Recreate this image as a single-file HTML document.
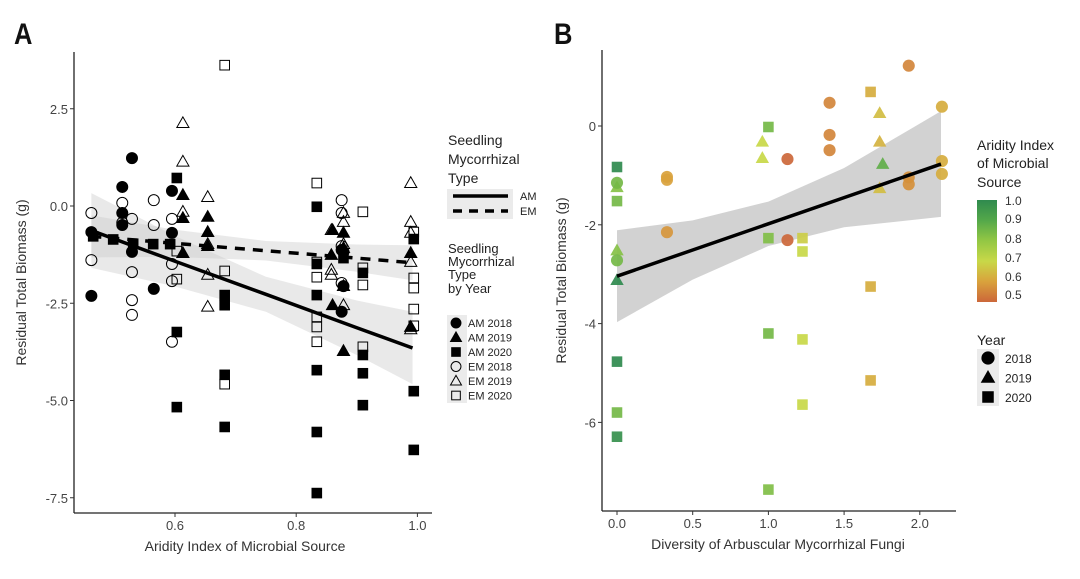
<!DOCTYPE html>
<html><head><meta charset="utf-8">
<style>
html,body{margin:0;padding:0;background:#fff;}
svg{display:block;font-family:"Liberation Sans",Arial,sans-serif;}
</style></head>
<body>
<svg id="fig" width="1080" height="579" viewBox="0 0 1080 579">
  <text x="0" y="0" font-size="30" font-weight="bold" fill="#111" transform="translate(14 44) scale(0.85 1)">A</text>
  <text x="0" y="0" font-size="30" font-weight="bold" fill="#111" transform="translate(554 44) scale(0.85 1)">B</text>
  <g id="pa"></g>
  <g id="pb"></g>
  <!-- Legend A -->
  <g font-size="14" fill="#222">
    <text x="448" y="145">Seedling</text>
    <text x="448" y="164">Mycorrhizal</text>
    <text x="448" y="183">Type</text>
    <rect x="447" y="189" width="66" height="30" fill="#ebebeb"/>
    <line x1="453" y1="196" x2="508" y2="196" stroke="#000" stroke-width="3.5"/>
    <line x1="453" y1="211" x2="508" y2="211" stroke="#000" stroke-width="3.5" stroke-dasharray="9,7"/>
    <text x="520" y="200" font-size="11">AM</text>
    <text x="520" y="215" font-size="11">EM</text>
  </g>
  <g font-size="13" fill="#222">
    <text x="448" y="253">Seedling</text>
    <text x="448" y="266">Mycorrhizal</text>
    <text x="448" y="279">Type</text>
    <text x="448" y="293">by Year</text>
    <rect x="447" y="315" width="20" height="88" fill="#ebebeb"/>
    <g id="legA"></g>
  </g>
  <!-- Legend B -->
  <g font-size="14" fill="#222">
    <text x="977" y="150">Aridity Index</text>
    <text x="977" y="168">of Microbial</text>
    <text x="977" y="187">Source</text>
    <defs><linearGradient id="cg" x1="0" y1="0" x2="0" y2="1">
      <stop offset="0" stop-color="#2f8a4e"/><stop offset="0.2" stop-color="#54a84a"/>
      <stop offset="0.4" stop-color="#93c744"/><stop offset="0.6" stop-color="#c8d848"/>
      <stop offset="0.8" stop-color="#d9a23c"/><stop offset="1" stop-color="#cc673a"/></linearGradient></defs>
    <rect x="977" y="200" width="20" height="102" fill="url(#cg)"/>
    <g font-size="12" fill="#333">
      <text x="1005" y="205">1.0</text>
      <text x="1005" y="223">0.9</text>
      <text x="1005" y="243">0.8</text>
      <text x="1005" y="262">0.7</text>
      <text x="1005" y="281">0.6</text>
      <text x="1005" y="299">0.5</text>
    </g>
    <text x="977" y="345">Year</text>
    <rect x="977" y="349" width="22" height="57" fill="#ebebeb"/>
    <g id="legB"></g>
  </g>
</svg>
<script>
// ---------- Panel A data ----------
const am18x=[0.462,0.462,0.529,0.513,0.513,0.513,0.529,0.565,0.595,0.595,0.878,0.878,0.875,0.875];
const am18y=[-2.31,-0.67,1.23,0.49,-0.18,-0.49,-1.18,-2.13,0.39,-0.69,-1.18,-2.06,-2.72,-1.13];
const am19x=[0.613,0.613,0.613,0.654,0.654,0.654,0.858,0.878,0.878,0.878,0.86,0.878,0.989,0.989,0.86];
const am19y=[0.28,-0.31,-1.21,-0.28,-0.67,-1.03,-1.26,-0.69,-1.08,-2.06,-2.55,-3.73,-1.21,-3.11,-0.62];
const am20x=[0.603,0.834,0.603,0.682,0.682,0.682,0.682,0.603,0.834,0.834,0.834,0.834,0.834,0.91,0.91,0.91,0.91,0.994,0.994,0.994,0.564,0.531,0.498,0.465,0.592,0.878];
const am20y=[0.72,-0.02,-3.24,-2.29,-2.55,-4.34,-5.68,-5.17,-1.49,-2.29,-4.22,-5.81,-7.38,-1.72,-3.83,-4.30,-5.12,-0.85,-4.76,-6.27,-0.98,-0.97,-0.86,-0.78,-0.98,-1.34];
const em18x=[0.462,0.462,0.513,0.513,0.529,0.529,0.529,0.529,0.565,0.565,0.595,0.595,0.595,0.595,0.875,0.875,0.875,0.875];
const em18y=[-0.18,-1.39,0.08,-0.43,-0.33,-1.70,-2.42,-2.80,0.15,-0.49,-0.33,-1.49,-1.93,-3.49,0.15,-0.18,-1.03,-1.98];
const em19x=[0.613,0.613,0.654,0.654,0.654,0.654,0.613,0.989,0.989,0.989,0.989,0.989,0.858,0.858,0.858,0.878,0.878,0.878,0.878];
const em19y=[2.13,1.14,0.23,-0.98,-1.77,-2.59,-0.15,0.59,-0.41,-0.69,-1.44,-3.17,-0.62,-1.64,-1.77,-0.18,-0.41,-2.55,-0.98];
const em20x=[0.682,0.834,0.91,0.994,0.603,0.682,0.603,0.834,0.834,0.834,0.834,0.834,0.91,0.91,0.91,0.994,0.994,0.994,0.994,0.682];
const em20y=[3.62,0.59,-0.15,-0.67,-1.16,-1.67,-1.88,-1.44,-1.83,-2.85,-3.11,-3.49,-1.59,-2.03,-3.62,-1.85,-2.11,-2.65,-3.08,-4.58];
const bandXA=[0.462,0.6,0.75,0.9,0.992];
const amFit=[-0.63,-1.42,-2.27,-3.13,-3.65];
const amHalf=[0.96,0.65,0.45,0.70,0.93];
const emFit=[-0.78,-0.96,-1.15,-1.34,-1.46];
const emHalf=[0.54,0.35,0.25,0.35,0.45];
const xTicksA=[0.6,0.8,1.0];
const xTickLabelsA=["0.6","0.8","1.0"];
const yTicksA=[2.5,0,-2.5,-5,-7.5];
const yTickLabelsA=["2.5","0.0","-2.5","-5.0","-7.5"];

// ---------- Panel B data ----------
const sqX=[0,0,0,0,0,1.0,1.0,1.0,1.0,1.225,1.225,1.225,1.225,1.675,1.675,1.675];
const sqY=[-0.83,-1.52,-4.77,-5.80,-6.29,-0.02,-2.27,-4.20,-7.36,-2.27,-2.54,-4.32,-5.64,0.69,-3.25,-5.15];
const sqA=[1.0,0.85,1.0,0.85,0.98,0.85,0.83,0.85,0.83,0.68,0.7,0.7,0.7,0.62,0.62,0.62];
const trX=[0,0,0,0.96,0.96,1.735,1.735,1.755,1.735];
const trY=[-1.24,-2.52,-3.12,-0.32,-0.65,0.26,-0.32,-0.77,-1.26];
const trA=[0.82,0.82,1.0,0.7,0.7,0.65,0.63,0.88,0.65];
const ciX=[0,0,0.33,0.33,0.33,1.126,1.126,1.404,1.404,1.404,1.927,1.927,1.927,2.146,2.146,2.146];
const ciY=[-1.15,-2.72,-1.03,-1.09,-2.15,-0.67,-2.31,0.47,-0.18,-0.49,1.22,-1.18,-1.04,0.39,-0.71,-0.97];
const ciA=[0.85,0.85,0.6,0.6,0.58,0.5,0.5,0.55,0.55,0.55,0.55,0.57,0.57,0.62,0.62,0.62];
const bandXB=[0,0.5,1.0,1.5,2.14];
const fitB=[-3.04,-2.51,-1.98,-1.45,-0.77];
const halfB=[0.93,0.60,0.45,0.60,1.07];
const xTicksB=[0,0.5,1.0,1.5,2.0];
const xTickLabelsB=["0.0","0.5","1.0","1.5","2.0"];
const yTicksB=[0,-2,-4,-6];
const yTickLabelsB=["0","-2","-4","-6"];

const NS="http://www.w3.org/2000/svg";
function mk(tag,attrs,parent){const e=document.createElementNS(NS,tag);for(const k in attrs)e.setAttribute(k,attrs[k]);parent.appendChild(e);return e;}

const xA=v=>175+(v-0.6)*606;
const yA=v=>206-v*38.9;
const xB=v=>617+v*151.4;
const yB=v=>126-v*49.4;

function colorFor(a){
  const stops=[[0.5,[204,103,58]],[0.6,[217,162,60]],[0.7,[200,216,72]],[0.8,[147,199,68]],[0.9,[84,168,74]],[1.0,[47,138,78]]];
  a=Math.max(0.5,Math.min(1,a));
  for(let i=0;i<stops.length-1;i++){const[a0,c0]=stops[i],[a1,c1]=stops[i+1];
    if(a<=a1){const t=(a-a0)/(a1-a0);return 'rgb('+c0.map((c,j)=>Math.round(c+(c1[j]-c)*t)).join(',')+')';}}
  return 'rgb(47,138,78)';
}
function shape(g,type,cx,cy,s,fill,stroke){
  let e;
  if(type==='c'){e=mk('circle',{cx:cx,cy:cy,r:s*0.55,fill:fill,stroke:stroke,'stroke-width':1},g);}
  else if(type==='t'){const h=s*1.05;e=mk('polygon',{points:`${cx},${cy-h*0.6} ${cx-h*0.58},${cy+h*0.42} ${cx+h*0.58},${cy+h*0.42}`,fill:fill,stroke:stroke,'stroke-width':1},g);}
  else {e=mk('rect',{x:cx-s*0.48,y:cy-s*0.48,width:s*0.96,height:s*0.96,fill:fill,stroke:stroke,'stroke-width':1},g);}
  return e;
}
function band(g,xs,fit,half,fx,fy,fill,op,name){
  let pts=xs.map((x,i)=>fx(x)+','+fy(fit[i]+half[i]));
  pts=pts.concat(xs.slice().reverse().map((x,k)=>{const i=xs.length-1-k;return fx(x)+','+fy(fit[i]-half[i]);}));
  const p=mk('polygon',{points:pts.join(' '),fill:fill,'fill-opacity':op},g);
  
  
}
function fitLine(g,xs,fit,fx,fy,dash,name){
  const p=mk('polyline',{points:xs.map((x,i)=>fx(x)+','+fy(fit[i])).join(' '),fill:'none',stroke:'#000','stroke-width':3.5},g);
  if(dash)p.setAttribute('stroke-dasharray','10,8');
  
  
}
function axes(g,x0,x1,yTop,yBot,xt,xtl,yt,ytl,fx,fy,xlabel,ylabel,ylx,xlc){
  const ax=mk('line',{x1:x0,y1:yTop,x2:x0,y2:yBot,stroke:'#222','stroke-width':1.3},g);
  
  
  const bx=mk('line',{x1:x0,y1:yBot,x2:x1,y2:yBot,stroke:'#222','stroke-width':1.3},g);
  
  
  xt.forEach((v,i)=>{mk('line',{x1:fx(v),y1:yBot,x2:fx(v),y2:yBot+4,stroke:'#333'},g);
    const t=mk('text',{x:fx(v),y:yBot+17,'text-anchor':'middle','font-size':13,fill:'#444'},g);t.textContent=xtl[i];
    
    });
  yt.forEach((v,i)=>{mk('line',{x1:x0-4,y1:fy(v),x2:x0,y2:fy(v),stroke:'#333'},g);
    const t=mk('text',{x:x0-6,y:fy(v)+5,'text-anchor':'end','font-size':13,fill:'#444'},g);t.textContent=ytl[i];
    
    });
  const xl=mk('text',{x:xlc,y:yBot+38,'text-anchor':'middle','font-size':14,fill:'#333'},g);xl.textContent=xlabel;
  
  
  const yc=(yTop+yBot)/2;
  const yl=mk('text',{x:ylx,y:yc,'text-anchor':'middle','font-size':14,fill:'#333',transform:`rotate(-90 ${ylx} ${yc})`},g);yl.textContent=ylabel;
  
  
}

// Panel A
const pa=document.getElementById('pa');
band(pa,bandXA,amFit,amHalf,xA,yA,'#c8c8c8',0.4,'am-confidence-band');
band(pa,bandXA,emFit,emHalf,xA,yA,'#c8c8c8',0.4,'em-confidence-band');
function series(xs,ys,type,fill,name){
  xs.forEach((x,i)=>{const e=shape(pa,type,xA(x),yA(ys[i]),10,fill,'#000');
    
    });
}
series(em18x,em18y,'c','none','point-em-2018');
series(em19x,em19y,'t','none','point-em-2019');
series(em20x,em20y,'s','none','point-em-2020');
series(am18x,am18y,'c','#000','point-am-2018');
series(am19x,am19y,'t','#000','point-am-2019');
series(am20x,am20y,'s','#000','point-am-2020');
fitLine(pa,bandXA,amFit,xA,yA,false,'am-fit-line');
fitLine(pa,bandXA,emFit,xA,yA,true,'em-fit-line');
axes(pa,74,432,52,513,xTicksA,xTickLabelsA,yTicksA,yTickLabelsA,xA,yA,'Aridity Index of Microbial Source','Residual Total Biomass (g)',26,245);

// Panel B
const pb=document.getElementById('pb');
band(pb,bandXB,fitB,halfB,xB,yB,'#b4b4b4',0.6,'confidence-band');
function seriesB(xs,ys,as,type,name){
  xs.forEach((x,i)=>{const c=colorFor(as[i]);const e=shape(pb,type,xB(x),yB(ys[i]),11,c,'none');
    e.setAttribute('fill-opacity','0.92');
    
    });
}
seriesB(sqX,sqY,sqA,'s','point-2020');
seriesB(trX,trY,trA,'t','point-2019');
seriesB(ciX,ciY,ciA,'c','point-2018');
fitLine(pb,bandXB,fitB,xB,yB,false,'fit-line');
axes(pb,602,956,50,511,xTicksB,xTickLabelsB,yTicksB,yTickLabelsB,xB,yB,'Diversity of Arbuscular Mycorrhizal Fungi','Residual Total Biomass (g)',566,778);

// Legend A symbols
const legA=document.getElementById('legA');
const legLabels=["AM 2018","AM 2019","AM 2020","EM 2018","EM 2019","EM 2020"];
const legTypes=['c','t','s','c','t','s'];
const legFills=['#000','#000','#000','none','none','none'];
legLabels.forEach((l,i)=>{const y=323+i*14.5;
  const s=shape(legA,legTypes[i],456,y,9,legFills[i],'#000');
  
  
  const t=mk('text',{x:468,y:y+4,'font-size':11,fill:'#222'},legA);t.textContent=l;
  
  });
// Legend B symbols
const legB=document.getElementById('legB');
["2018","2019","2020"].forEach((l,i)=>{const y=358+i*19.5;
  const s=shape(legB,['c','t','s'][i],988,y,12,'#000','none');
  
  
  const t=mk('text',{x:1005,y:y+5,'font-size':12,fill:'#222'},legB);t.textContent=l;
  
  });
</script>
</body></html>
